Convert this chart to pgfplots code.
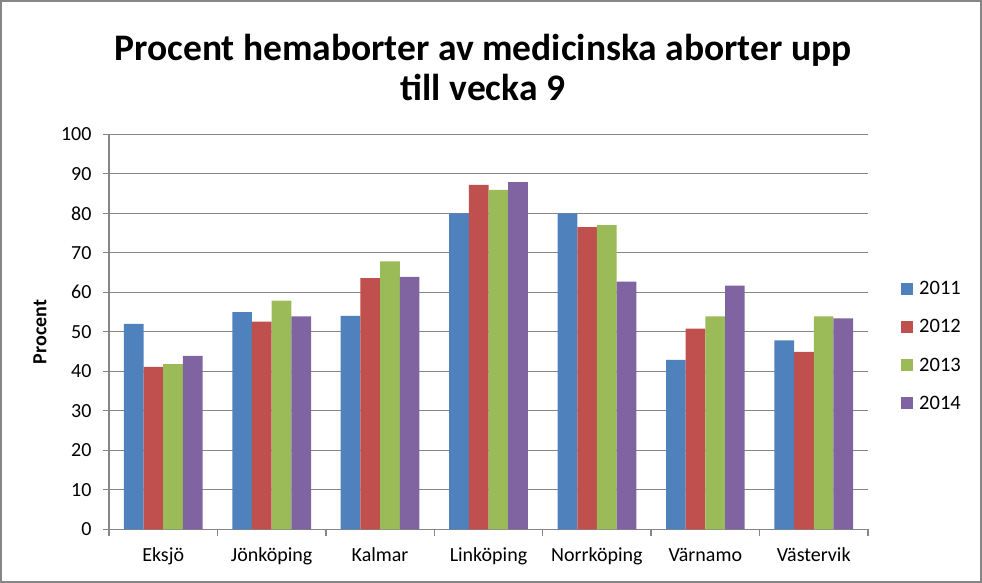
\documentclass[border=0pt]{standalone}
\usepackage{fontspec}
\setmainfont{Carlito}
\usepackage{pgfplots}
\pgfplotsset{compat=1.18}
\definecolor{c1}{HTML}{4F81BD}
\definecolor{c2}{HTML}{C0504D}
\definecolor{c3}{HTML}{9BBB59}
\definecolor{c4}{HTML}{8064A2}
\definecolor{gridc}{HTML}{868686}
\begin{document}
\begin{tikzpicture}
\useasboundingbox (-109bp,-53.7bp) rectangle (873bp,529.3bp);
\begin{axis}[
  scale only axis,
  width=759bp, height=395bp,
  xmin=-0.5, xmax=6.5,
  ymin=0, ymax=100,
  ytick={0,10,...,100},
  xtick={0,...,6},
  xticklabels={Eksjö,Jönköping,Kalmar,Linköping,Norrköping,Värnamo,Västervik},
  minor xtick={-0.5,0.5,...,6.5},
  axis x line*=bottom,
  axis y line*=left,
  ymajorgrids,
  grid style={gridc, line width=1.3bp},
  axis line style={gridc, line width=1.3bp},
  tick style={gridc, line width=1.3bp},
  tick align=outside,
  major tick length=6bp,
  minor tick length=7bp,
  major x tick style={draw=none},
  ticklabel style={font=\fontsize{20bp}{24bp}\selectfont, text=black},
  /pgf/number format/assume math mode=true,
  yticklabel style={xshift=-8bp},
  xticklabel style={yshift=-9bp},
  ylabel={Procent},
  every axis y label/.style={at={(-69bp,197.3bp)}, rotate=90, anchor=center,
    font=\fontsize{20bp}{24bp}\selectfont\bfseries},
  ybar=0pt,
  bar width=0.1815,
  legend style={draw=none, at={(1.0435,0.464)}, anchor=west,
    font=\fontsize{20.5bp}{24bp}\selectfont, row sep=19.5bp,
    legend cell align=left, inner sep=0pt},
  legend image code/.code={\fill[#1] (0bp,-6bp) rectangle (12bp,6bp); \path (16bp,0bp);},
  clip=false,
]
\addplot[fill=c1, draw=none] coordinates {(0,52) (1,55) (2,54) (3,80) (4,80) (5,42.9) (6,47.8)};
\addplot[fill=c2, draw=none] coordinates {(0,41.1) (1,52.6) (2,63.6) (3,87.2) (4,76.5) (5,50.8) (6,44.9)};
\addplot[fill=c3, draw=none] coordinates {(0,41.8) (1,57.9) (2,67.8) (3,85.9) (4,77.0) (5,53.9) (6,53.9)};
\addplot[fill=c4, draw=none] coordinates {(0,43.9) (1,53.9) (2,63.9) (3,87.9) (4,62.7) (5,61.7) (6,53.4)};
\legend{2011,2012,2013,2014}
\end{axis}
\node[align=center, font=\fontsize{37.5bp}{40bp}\selectfont\bfseries] at (374bp,462.3bp)
  {Procent hemaborter av medicinska aborter upp\\till vecka 9};
\draw[gridc, line width=2.5bp] (-107.75bp,-52.45bp) rectangle (871.75bp,528.05bp);
\end{tikzpicture}
\end{document}
